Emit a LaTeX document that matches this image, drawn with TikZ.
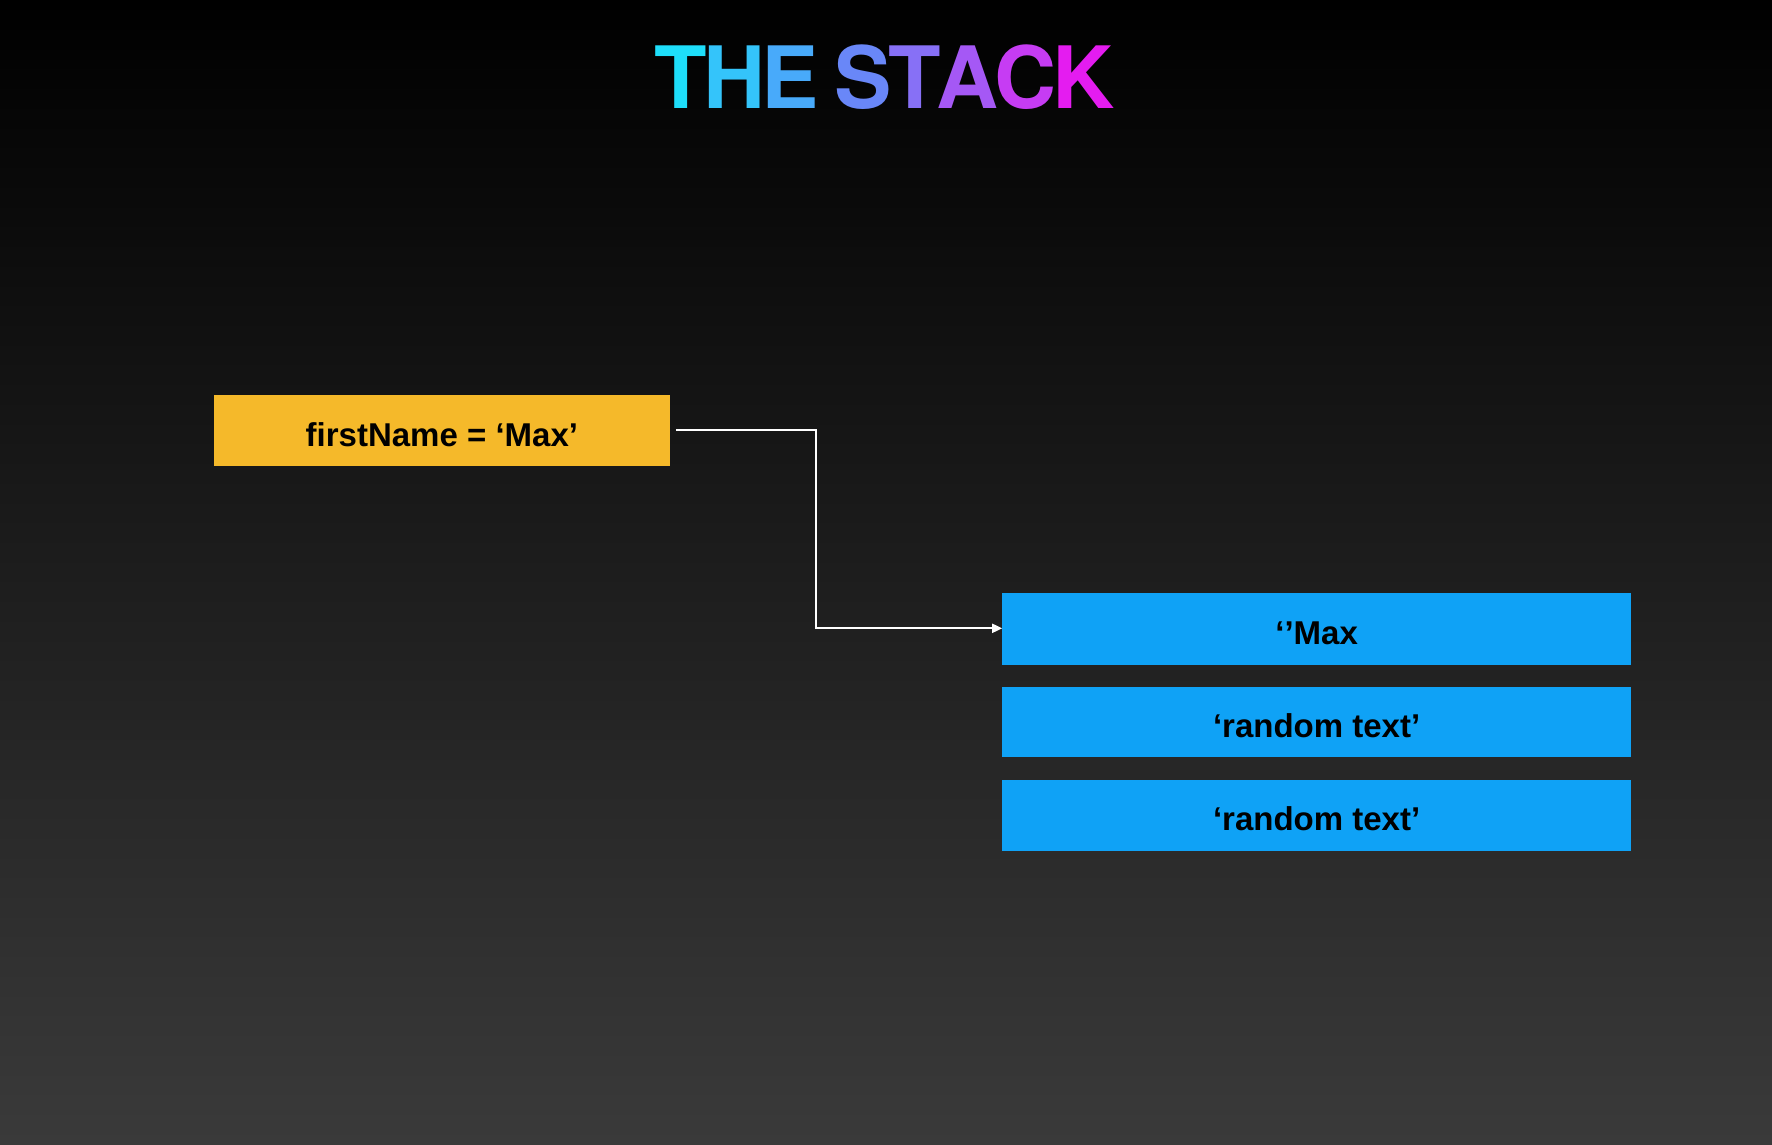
\documentclass[tikz,border=0pt]{standalone}
\usepackage{fontspec}
\setmainfont{Liberation Sans}
\newfontfamily\titlefont{TeX Gyre Heros}
\usetikzlibrary{arrows.meta}
\definecolor{bgtop}{HTML}{000000}
\definecolor{bgbot}{HTML}{3A3A3A}
\definecolor{ybox}{HTML}{F5B92A}
\definecolor{bbox}{HTML}{0FA2F6}
\definecolor{tA}{RGB}{30,222,250}
\definecolor{tB}{RGB}{52,196,250}
\definecolor{tC}{RGB}{72,170,250}
\definecolor{tD}{RGB}{105,135,248}
\definecolor{tE}{RGB}{135,112,246}
\definecolor{tF}{RGB}{165,88,245}
\definecolor{tG}{RGB}{198,60,243}
\definecolor{tH}{RGB}{228,28,240}
\newcommand{\tk}{\kern-4pt}
\tikzset{
  membox/.style={fill=#1, draw=none, inner sep=0pt, text=black,
    text height=31pt, text depth=0pt,
    font=\fontsize{33}{38}\selectfont\bfseries},
  link/.style={draw=white, line width=2pt, -{Triangle[length=10pt,width=9pt]}}
}
\begin{document}
\begin{tikzpicture}[x=1pt,y=-1pt]
\shade[top color=bgtop, bottom color=bgbot] (0,0) rectangle (1772,1144);
\useasboundingbox (0,0) rectangle (1772,1144);
\node[font=\titlefont\fontsize{86}{94}\selectfont\bfseries, inner sep=0pt, anchor=base] (title) at (885,108)
  {\color{tA}T\tk\color{tB}H\tk\color{tC}E\tk\ \tk\color{tD}S\tk\color{tE}T\tk\color{tF}A\tk\color{tG}C\tk\color{tH}K};
\node[membox=ybox, minimum width=456.6pt, minimum height=70.1pt] (var) at (441.9,430.5) {firstName = ‘Max’};
\node[membox=bbox, minimum width=628.4pt, minimum height=71.2pt] (s1) at (1316.6,628.9) {‘’Max};
\node[membox=bbox, minimum width=628.4pt, minimum height=70.1pt] (s2) at (1316.6,722.1) {‘random text’};
\node[membox=bbox, minimum width=628.4pt, minimum height=71.2pt] (s3) at (1316.6,815.4) {‘random text’};
\coordinate (start) at (675.8,429.5);
\coordinate (bend1) at (816,429.5);
\coordinate (bend2) at (816,628.3);
\draw[link] (start) -- (bend1) -- (bend2) -- (s1.west |- bend2);
\end{tikzpicture}
\end{document}
